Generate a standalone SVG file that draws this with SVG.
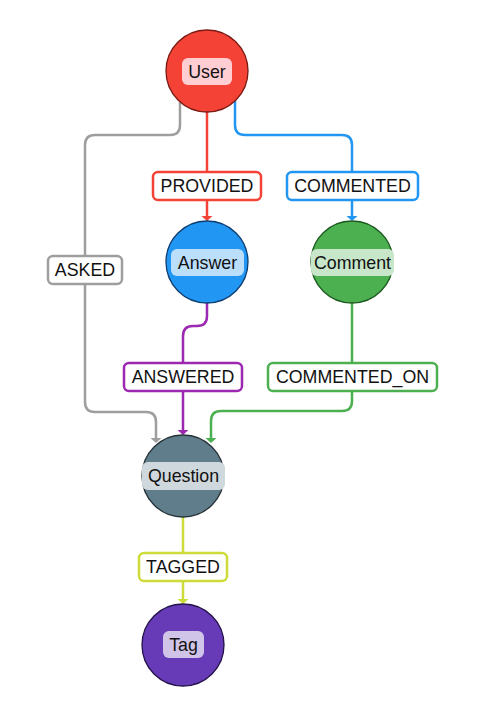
<svg xmlns="http://www.w3.org/2000/svg" width="493" height="723" viewBox="0 0 493 723">
<style>
  text { font-family: "Liberation Sans", Arial, sans-serif; font-size: 17.8px; fill: #111; text-anchor: middle; dominant-baseline: central; }
  .node circle { stroke-width: 1.3; }
  .edge { fill: none; stroke-width: 2.5; }
  .elabel rect { fill: #ffffff; stroke-width: 2.5; }
</style>
<defs>
  <marker id="a-red" viewBox="0 -6 5 12" refX="0" refY="0" markerWidth="5" markerHeight="12" markerUnits="userSpaceOnUse" orient="auto"><path d="M0,-5.5 L5,0 L0,5.5 z" fill="#f44336"/></marker>
  <marker id="a-blue" viewBox="0 -6 5 12" refX="0" refY="0" markerWidth="5" markerHeight="12" markerUnits="userSpaceOnUse" orient="auto"><path d="M0,-5.5 L5,0 L0,5.5 z" fill="#2196f3"/></marker>
  <marker id="a-gray" viewBox="0 -6 5 12" refX="0" refY="0" markerWidth="5" markerHeight="12" markerUnits="userSpaceOnUse" orient="auto"><path d="M0,-5.5 L5,0 L0,5.5 z" fill="#9e9e9e"/></marker>
  <marker id="a-purple" viewBox="0 -6 5 12" refX="0" refY="0" markerWidth="5" markerHeight="12" markerUnits="userSpaceOnUse" orient="auto"><path d="M0,-5.5 L5,0 L0,5.5 z" fill="#9c27b0"/></marker>
  <marker id="a-green" viewBox="0 -6 5 12" refX="0" refY="0" markerWidth="5" markerHeight="12" markerUnits="userSpaceOnUse" orient="auto"><path d="M0,-5.5 L5,0 L0,5.5 z" fill="#4caf50"/></marker>
  <marker id="a-lime" viewBox="0 -6 5 12" refX="0" refY="0" markerWidth="5" markerHeight="12" markerUnits="userSpaceOnUse" orient="auto"><path d="M0,-5.5 L5,0 L0,5.5 z" fill="#cddc39"/></marker>
</defs>
<rect width="493" height="723" fill="#ffffff"/>

<g id="connectors">
  <path class="edge" stroke="#9e9e9e" marker-end="url(#a-gray)" d="M180,102 V125 Q180,135 170,135 H95 Q85,135 85,145 V402 Q85,412 95,412 H146 Q156,412 156,422 V438"/>
  <path class="edge" stroke="#f44336" marker-end="url(#a-red)" d="M207,112 V216"/>
  <path class="edge" stroke="#2196f3" marker-end="url(#a-blue)" d="M235,101 V125 Q235,135 245,135 H342 Q352,135 352,145 V216"/>
  <path class="edge" stroke="#9c27b0" marker-end="url(#a-purple)" d="M207,303 V316 Q207,326 197,326 H193 Q183,326 183,336 V430"/>
  <path class="edge" stroke="#4caf50" marker-end="url(#a-green)" d="M352,303 V401 Q352,411 342,411 H221 Q211,411 211,421 V438"/>
  <path class="edge" stroke="#cddc39" marker-end="url(#a-lime)" d="M183,517 V599"/>

  <g class="elabel" id="label-provided"><rect x="153" y="172" width="108" height="28" rx="5" stroke="#f44336"/><text x="207" y="186">PROVIDED</text></g>
  <g class="elabel" id="label-commented"><rect x="287" y="172" width="131" height="28" rx="5" stroke="#2196f3"/><text x="352.5" y="186">COMMENTED</text></g>
  <g class="elabel" id="label-asked"><rect x="48" y="256" width="74" height="28" rx="5" stroke="#9e9e9e"/><text x="85" y="270">ASKED</text></g>
  <g class="elabel" id="label-answered"><rect x="124" y="363" width="118" height="28" rx="5" stroke="#9c27b0"/><text x="183" y="377">ANSWERED</text></g>
  <g class="elabel" id="label-commented-on"><rect x="268" y="363" width="169" height="28" rx="5" stroke="#4caf50"/><text x="352.5" y="377">COMMENTED_ON</text></g>
  <g class="elabel" id="label-tagged"><rect x="139" y="553" width="88" height="28" rx="5" stroke="#cddc39"/><text x="183" y="567">TAGGED</text></g>
</g>

<g id="node-user" class="node">
  <circle cx="207" cy="71" r="41" fill="#f44336" stroke="#7a1a14"/>
  <rect x="182" y="58" width="50" height="27" rx="6" fill="#ffcdd2"/>
  <text x="207" y="71.5">User</text>
</g>
<g id="node-answer" class="node">
  <circle cx="207" cy="262" r="41" fill="#2196f3" stroke="#0d3c6e"/>
  <rect x="171" y="249" width="73" height="27" rx="6" fill="#bbdefb"/>
  <text x="207.5" y="262.5">Answer</text>
</g>
<g id="node-comment" class="node">
  <circle cx="352" cy="262" r="41" fill="#4caf50" stroke="#1d5a20"/>
  <rect x="311" y="249" width="83" height="27" rx="6" fill="#c8e6c9"/>
  <text x="352.5" y="262.5">Comment</text>
</g>
<g id="node-question" class="node">
  <circle cx="183" cy="476" r="41" fill="#607d8b" stroke="#263238"/>
  <rect x="142" y="462" width="83" height="28" rx="6" fill="#cfd8dc"/>
  <text x="183.5" y="476">Question</text>
</g>
<g id="node-tag" class="node">
  <circle cx="183" cy="645" r="41" fill="#673ab7" stroke="#24124a"/>
  <rect x="163" y="631" width="41" height="27" rx="6" fill="#d1c4e9"/>
  <text x="183.5" y="644.5">Tag</text>
</g>
</svg>
